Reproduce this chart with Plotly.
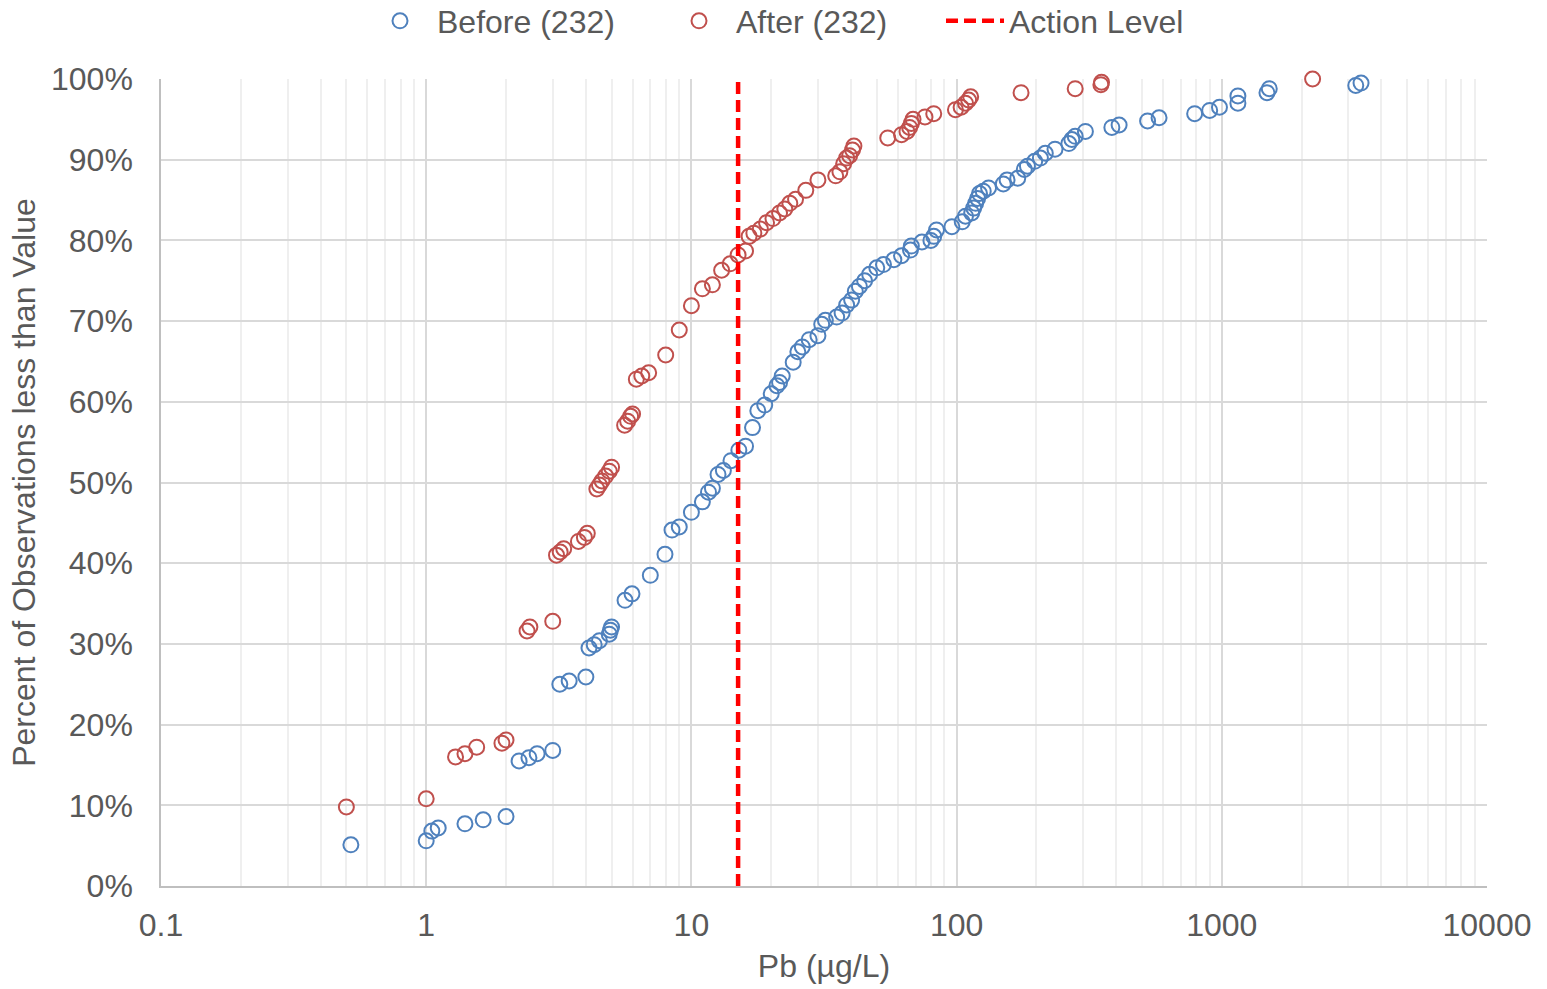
import plotly.graph_objects as go

before_x = [0.52, 1.0, 1.05, 1.11, 1.40, 1.64, 2.0, 2.24, 2.44, 2.62, 3.0, 3.19, 3.46, 4.0, 4.11, 4.3, 4.5,
            4.9, 4.95, 5.0, 5.62, 5.97, 7.0, 7.95, 8.45, 9.0, 10.0, 11.0, 11.6, 12.0, 12.6, 13.2, 14.1, 15.1,
            16.0, 17.0, 17.8, 18.9, 20.0, 21.0, 21.5, 22.0, 24.2, 25.2, 26.2, 27.8, 30.0, 31.0, 32.0, 35.3,
            37.0, 38.5, 40.2, 41.5, 43.0, 45.0, 47.0, 50.0, 53.0, 58.0, 62.0, 67.0, 67.5, 74.0, 80.0, 82.0,
            84.0, 96.0, 105, 108, 114, 116, 118, 120, 122, 126, 132, 150, 155, 170, 180, 185, 197, 207, 216,
            235, 265, 272, 280, 306, 385, 410, 525, 580, 790, 900, 980, 1150, 1150, 1480, 1510, 3200, 3350]
before_pct = [5.1, 5.6, 6.8, 7.2, 7.7, 8.2, 8.6, 15.5, 15.9, 16.4, 16.8, 25.0, 25.4, 25.9, 29.5, 29.9, 30.4,
              31.2, 31.7, 32.1, 35.4, 36.2, 38.5, 41.1, 44.1, 44.5, 46.3, 47.6, 48.8, 49.3, 51.0, 51.5, 52.7,
              54.0, 54.5, 56.8, 58.9, 59.6, 61.0, 62.0, 62.4, 63.2, 64.9, 66.2, 66.8, 67.7, 68.2, 69.6, 70.1,
              70.5, 71.0, 72.0, 72.6, 73.7, 74.3, 75.0, 75.8, 76.6, 77.0, 77.6, 78.1, 78.8, 79.3, 79.8, 80.0,
              80.5, 81.3, 81.7, 82.3, 83.0, 83.4, 84.0, 84.6, 85.2, 85.8, 86.1, 86.5, 87.0, 87.5, 87.7, 88.8,
              89.2, 89.8, 90.2, 90.8, 91.3, 92.0, 92.5, 92.9, 93.5, 94.0, 94.3, 94.8, 95.2, 95.7, 96.1, 96.5,
              97.0, 97.9, 98.3, 98.8, 99.2, 99.5]

after_x = [0.50, 1.0, 1.29, 1.40, 1.55, 1.93, 2.0, 2.40, 2.46, 3.0, 3.1, 3.2, 3.3, 3.75, 3.95, 4.05, 4.4, 4.5,
           4.6, 4.75, 4.9, 5.0, 5.6, 5.75, 5.9, 6.0, 6.2, 6.5, 6.9, 8.0, 9.0, 10.0, 11.0, 12.0, 13.0, 14.0,
           15.0, 16.0, 16.5, 17.2, 18.2, 19.2, 20.3, 21.5, 22.5, 23.5, 24.7, 27.0, 30.0, 35.0, 36.3, 37.5,
           38.5, 39.5, 40.5, 41.0, 55.0, 62.0, 65.0, 66.5, 67.5, 68.5, 76.0, 82.0, 99.0, 104, 108, 111, 113,
           175, 280, 350, 352, 2200]
after_pct = [9.8, 10.8, 16.0, 16.4, 17.2, 17.7, 18.1, 31.6, 32.1, 32.8, 41.0, 41.4, 41.8, 42.7, 43.2, 43.7,
             49.2, 49.7, 50.2, 50.8, 51.4, 51.9, 57.1, 57.6, 58.2, 58.5, 62.8, 63.2, 63.6, 65.8, 68.9, 71.9,
             74.0, 74.5, 76.3, 77.1, 78.2, 78.7, 80.5, 80.9, 81.4, 82.2, 82.7, 83.4, 83.9, 84.6, 85.1, 86.2,
             87.5, 88.0, 88.5, 89.5, 90.2, 90.5, 91.2, 91.7, 92.7, 93.1, 93.5, 94.0, 94.5, 95.0, 95.3, 95.7,
             96.2, 96.5, 97.0, 97.4, 97.8, 98.3, 98.8, 99.3, 99.6, 100.0]

action_level = 15
action_y = [0, 100]

x_tickvals = [0.1, 1, 10, 100, 1000, 10000]
x_ticktext = ["0.1", "1", "10", "100", "1000", "10000"]
y_tickvals = [0, 10, 20, 30, 40, 50, 60, 70, 80, 90, 100]
y_ticktext = ["0%", "10%", "20%", "30%", "40%", "50%", "60%", "70%", "80%", "90%", "100%"]

BLUE = "#4F81BD"
RED = "#C0504D"
TXT = "#595959"
FONT = "Liberation Sans, Arial, sans-serif"
FS = 32
W, H = 1547, 989

fig = go.Figure()
fig.add_trace(go.Scatter(
    x=before_x, y=before_pct, mode="markers", name="Before (232)", legend="legend", cliponaxis=False,
    marker=dict(symbol="circle-open", size=15, color=BLUE, line=dict(width=2, color=BLUE)),
))
fig.add_trace(go.Scatter(
    x=after_x, y=after_pct, mode="markers", name="After (232)", legend="legend2", cliponaxis=False,
    marker=dict(symbol="circle-open", size=15, color=RED, line=dict(width=2, color=RED)),
))
fig.add_trace(go.Scatter(
    x=[action_level, action_level], y=action_y, mode="lines", name="Action Level", legend="legend3",
    line=dict(color="#FF0000", width=4.5, dash="12px,6px"),
))

def leg(left_px, iw):
    return dict(
        orientation="h", xref="container", yref="container",
        x=left_px / W, xanchor="left", y=1 - 21 / H, yanchor="middle",
        font=dict(size=FS, color=TXT), itemwidth=iw,
        bgcolor="rgba(0,0,0,0)", borderwidth=0,
    )

fig.update_layout(
    width=W, height=H,
    margin=dict(l=161, r=60, t=79, b=103),
    paper_bgcolor="white", plot_bgcolor="white",
    font=dict(family=FONT, size=FS, color=TXT),
    legend=leg(363, 64),
    legend2=leg(662, 64),
    legend3=leg(941, 58),
    showlegend=True,
)
fig.update_xaxes(
    type="log", range=[-1, 4],
    tickvals=x_tickvals, ticktext=x_ticktext,
    showgrid=True, gridcolor="#D9D9D9", gridwidth=1.5,
    minor=dict(showgrid=True, gridcolor="#EFEFEF", gridwidth=1.5, dtick="D1", ticks=""),
    showline=True, linecolor="#BFBFBF", linewidth=1.5, mirror=False,
    zeroline=False, ticks="", ticklabelstandoff=10,
    title=dict(text="Pb (µg/L)", font=dict(size=FS, color=TXT), standoff=12),
)
fig.update_yaxes(
    range=[0, 100], tickvals=y_tickvals, ticktext=y_ticktext,
    showgrid=True, gridcolor="#D9D9D9", gridwidth=1.5,
    showline=True, linecolor="#BFBFBF", linewidth=1.5,
    zeroline=False, ticks="", ticklabelstandoff=20,
    title=dict(text="Percent of Observations less than Value", font=dict(size=FS, color=TXT), standoff=6),
)

fig.write_html("out.html")
